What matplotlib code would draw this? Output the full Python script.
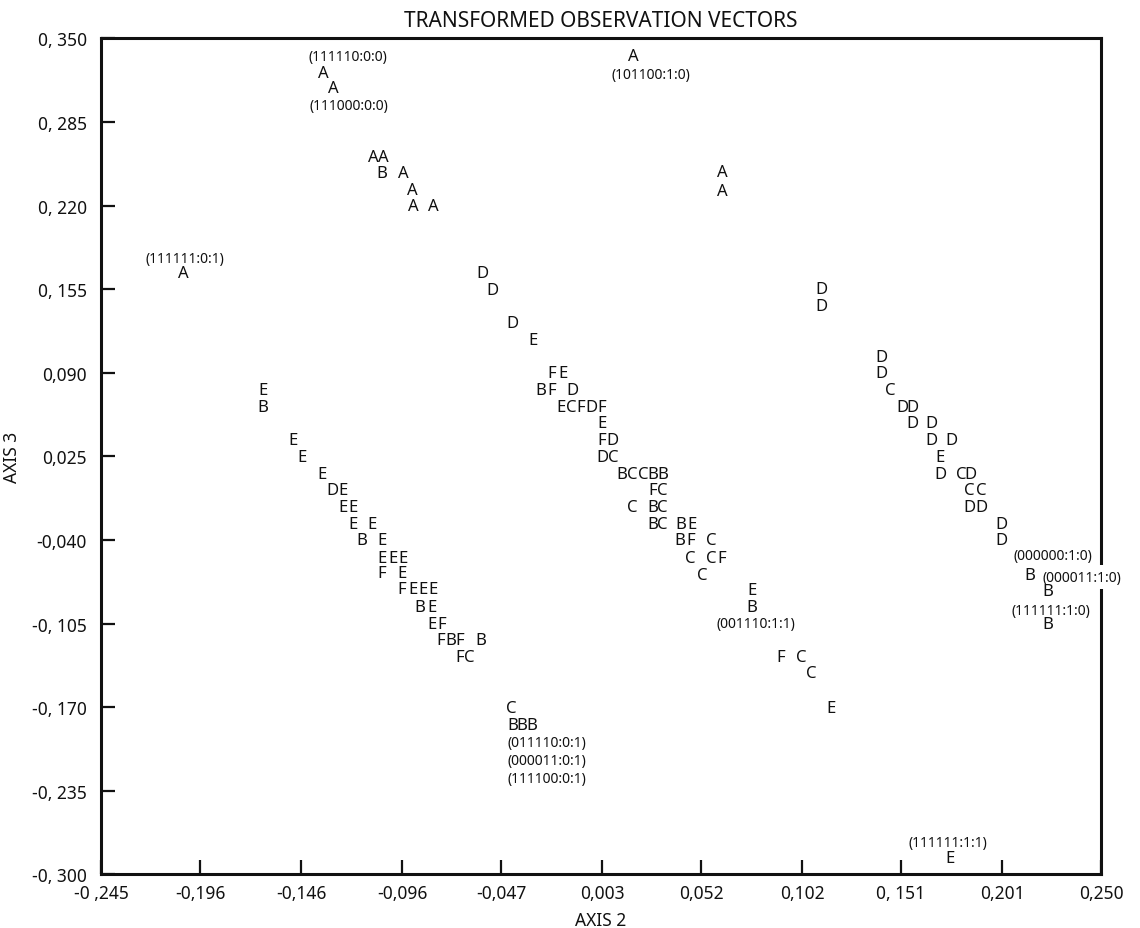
import matplotlib
matplotlib.use("Agg")
import matplotlib.pyplot as plt

plt.rcParams['font.family'] = ['Noto Sans', 'DejaVu Sans']

# group letters of the observations, (axis 2, axis 3)
pts_A = [(-0.1351, 0.3230), (-0.1302, 0.3114), (-0.1104, 0.2577), (-0.1054, 0.2577),
         (-0.0955, 0.2453), (-0.0911, 0.2321), (-0.0906, 0.2196), (-0.0807, 0.2196),
         (-0.2044, 0.1675), (0.0183, 0.3362), (0.0624, 0.2461), (0.0624, 0.2313)]

pts_B = [(-0.1059, 0.2453), (-0.1648, 0.0631), (-0.1158, -0.0401), (-0.0871, -0.0922),
         (-0.0717, -0.1178), (-0.0569, -0.1178), (-0.0411, -0.1839), (-0.0366, -0.1839),
         (-0.0317, -0.1839), (-0.0272, 0.0763), (0.0129, 0.0116), (0.0282, 0.0116),
         (0.0329, 0.0116), (0.0282, -0.0144), (0.0282, -0.0272), (0.0421, -0.0272),
         (0.0416, -0.0401), (0.0772, -0.0922), (0.2149, -0.0673), (0.2238, -0.0797),
         (0.2238, -0.1050)]

pts_C = [(-0.0420, -0.1703), (-0.0628, -0.1310), (-0.0123, 0.0631), (0.0084, 0.0248),
         (0.0181, 0.0116), (0.0233, 0.0116), (0.0329, -0.0012), (0.0181, -0.0144),
         (0.0329, -0.0144), (0.0329, -0.0272), (0.0570, -0.0401), (0.0468, -0.0537),
         (0.0570, -0.0537), (0.0525, -0.0673), (0.1015, -0.1310), (0.1065, -0.1435),
         (0.1456, 0.0763), (0.1807, 0.0116), (0.1849, -0.0012), (0.1906, -0.0012)]

pts_D = [(-0.1302, -0.0012), (-0.0562, 0.1675), (-0.0510, 0.1540), (-0.0411, 0.1286),
         (-0.0118, 0.0763), (-0.0020, 0.0631), (0.0084, 0.0377), (0.0030, 0.0248),
         (0.1116, 0.1548), (0.1116, 0.1419), (0.1411, 0.1022), (0.1411, 0.0898),
         (0.1515, 0.0631), (0.1567, 0.0631), (0.1567, 0.0507), (0.1663, 0.0507),
         (0.1663, 0.0377), (0.1762, 0.0377), (0.1703, 0.0116), (0.1856, 0.0116),
         (0.1849, -0.0144), (0.1906, -0.0144), (0.2005, -0.0272), (0.2005, -0.0401)]

pts_E = [(-0.1648, 0.0763), (-0.1500, 0.0377), (-0.1455, 0.0248), (-0.1356, 0.0116),
         (-0.1252, -0.0012), (-0.1252, -0.0144), (-0.1203, -0.0144), (-0.1203, -0.0272),
         (-0.1109, -0.0272), (-0.1059, -0.0401), (-0.1059, -0.0537), (-0.1005, -0.0537),
         (-0.0955, -0.0537), (-0.0960, -0.0657), (-0.0906, -0.0782), (-0.0856, -0.0782),
         (-0.0807, -0.0782), (-0.0812, -0.0922), (-0.0812, -0.1050), (-0.0312, 0.1154),
         (-0.0163, 0.0898), (-0.0173, 0.0631), (0.0030, 0.0507), (0.0476, -0.0272),
         (0.0772, -0.0790), (0.1164, -0.1703), (0.1703, 0.0248), (0.1753, -0.2873)]

pts_F = [(-0.1059, -0.0657), (-0.0960, -0.0782), (-0.0762, -0.1050), (-0.0767, -0.1178),
         (-0.0673, -0.1178), (-0.0673, -0.1310), (-0.0218, 0.0898), (-0.0218, 0.0763),
         (-0.0074, 0.0631), (0.0030, 0.0631), (0.0030, 0.0377), (0.0282, -0.0012),
         (0.0468, -0.0401), (0.0624, -0.0537), (0.0914, -0.1310)]

# pattern codes written next to some observations
codes_centered = [(-0.1227, 0.3362, "(111110:0:0)"), (-0.1222, 0.2974, "(111000:0:0)"),
                  (-0.2034, 0.1792, "(111111:0:1)"), (0.0273, 0.3215, "(101100:1:0)"),
                  (0.0792, -0.1046, "(001110:1:1)"), (0.1743, -0.2749, "(111111:1:1)"),
                  (0.2253, -0.0945, "(111111:1:0)")]
codes_left = [(-0.0437, -0.1971, "(011110:0:1)"), (-0.0437, -0.2111, "(000011:0:1)"),
              (-0.0437, -0.2251, "(111100:0:1)")]
codes_on_frame = [(0.2262, -0.0517, "(000000:1:0)", "center"),
                  (0.2208, -0.0688, "(000011:1:0)", "left")]

xticks = [-0.245, -0.196, -0.146, -0.096, -0.047, 0.003, 0.052, 0.102, 0.151, 0.201, 0.250]
xticklabels = ["-0 ,245", "-0,196", "-0,146", "-0,096", "-0,047", "0,003", "0,052",
               "0,102", "0, 151", "0,201", "0,250"]
yticks = [-0.300, -0.235, -0.170, -0.105, -0.040, 0.025, 0.090, 0.155, 0.220, 0.285, 0.350]
yticklabels = ["-0, 300", "-0, 235", "-0, 170", "-0, 105", "-0,040", "0,025", "0,090",
               "0, 155", "0, 220", "0, 285", "0, 350"]

ink = '#111111'

fig = plt.figure(figsize=(11.4, 9.29), dpi=100)
ax = fig.add_axes([0.0886, 0.0576, 0.8772, 0.9001])
ax.set_xlim(-0.245, 0.250)
ax.set_ylim(-0.300, 0.350)

for letter, pts in zip("ABCDEF", [pts_A, pts_B, pts_C, pts_D, pts_E, pts_F]):
    for x, y in pts:
        ax.text(x, y, letter, ha='center', va='center', fontsize=12, color=ink, zorder=4)

for x, y, s in codes_centered:
    ax.text(x, y, s, ha='center', va='center', fontsize=10, color=ink)
for x, y, s in codes_left:
    ax.text(x, y, s, ha='left', va='center', fontsize=10, color=ink)
# these two run over the right frame line, which is broken behind them
for x, y, s, ha in codes_on_frame:
    ax.text(x, y, s, ha=ha, va='center', fontsize=10, color=ink, zorder=3,
            bbox=dict(boxstyle='square,pad=0.3', fc='white', ec='none'))

for side in ['top', 'bottom', 'left', 'right']:
    ax.spines[side].set_linewidth(2.2)
    ax.spines[side].set_color(ink)

ax.set_xticks(xticks)
ax.set_xticklabels(xticklabels)
ax.set_yticks(yticks)
ax.set_yticklabels(yticklabels)
ax.tick_params(axis='both', direction='in', length=10, width=1.6, color=ink,
               labelsize=12.5, labelcolor=ink)
ax.tick_params(axis='x', pad=7)
ax.tick_params(axis='y', pad=10)

ax.set_title("TRANSFORMED OBSERVATION VECTORS", fontsize=15, color=ink, pad=9)
ax.set_xlabel("AXIS 2", fontsize=12.5, color=ink, labelpad=6)
ax.set_ylabel("AXIS 3", fontsize=12.5, color=ink, labelpad=8)

fig.savefig("out.png", dpi=100)
